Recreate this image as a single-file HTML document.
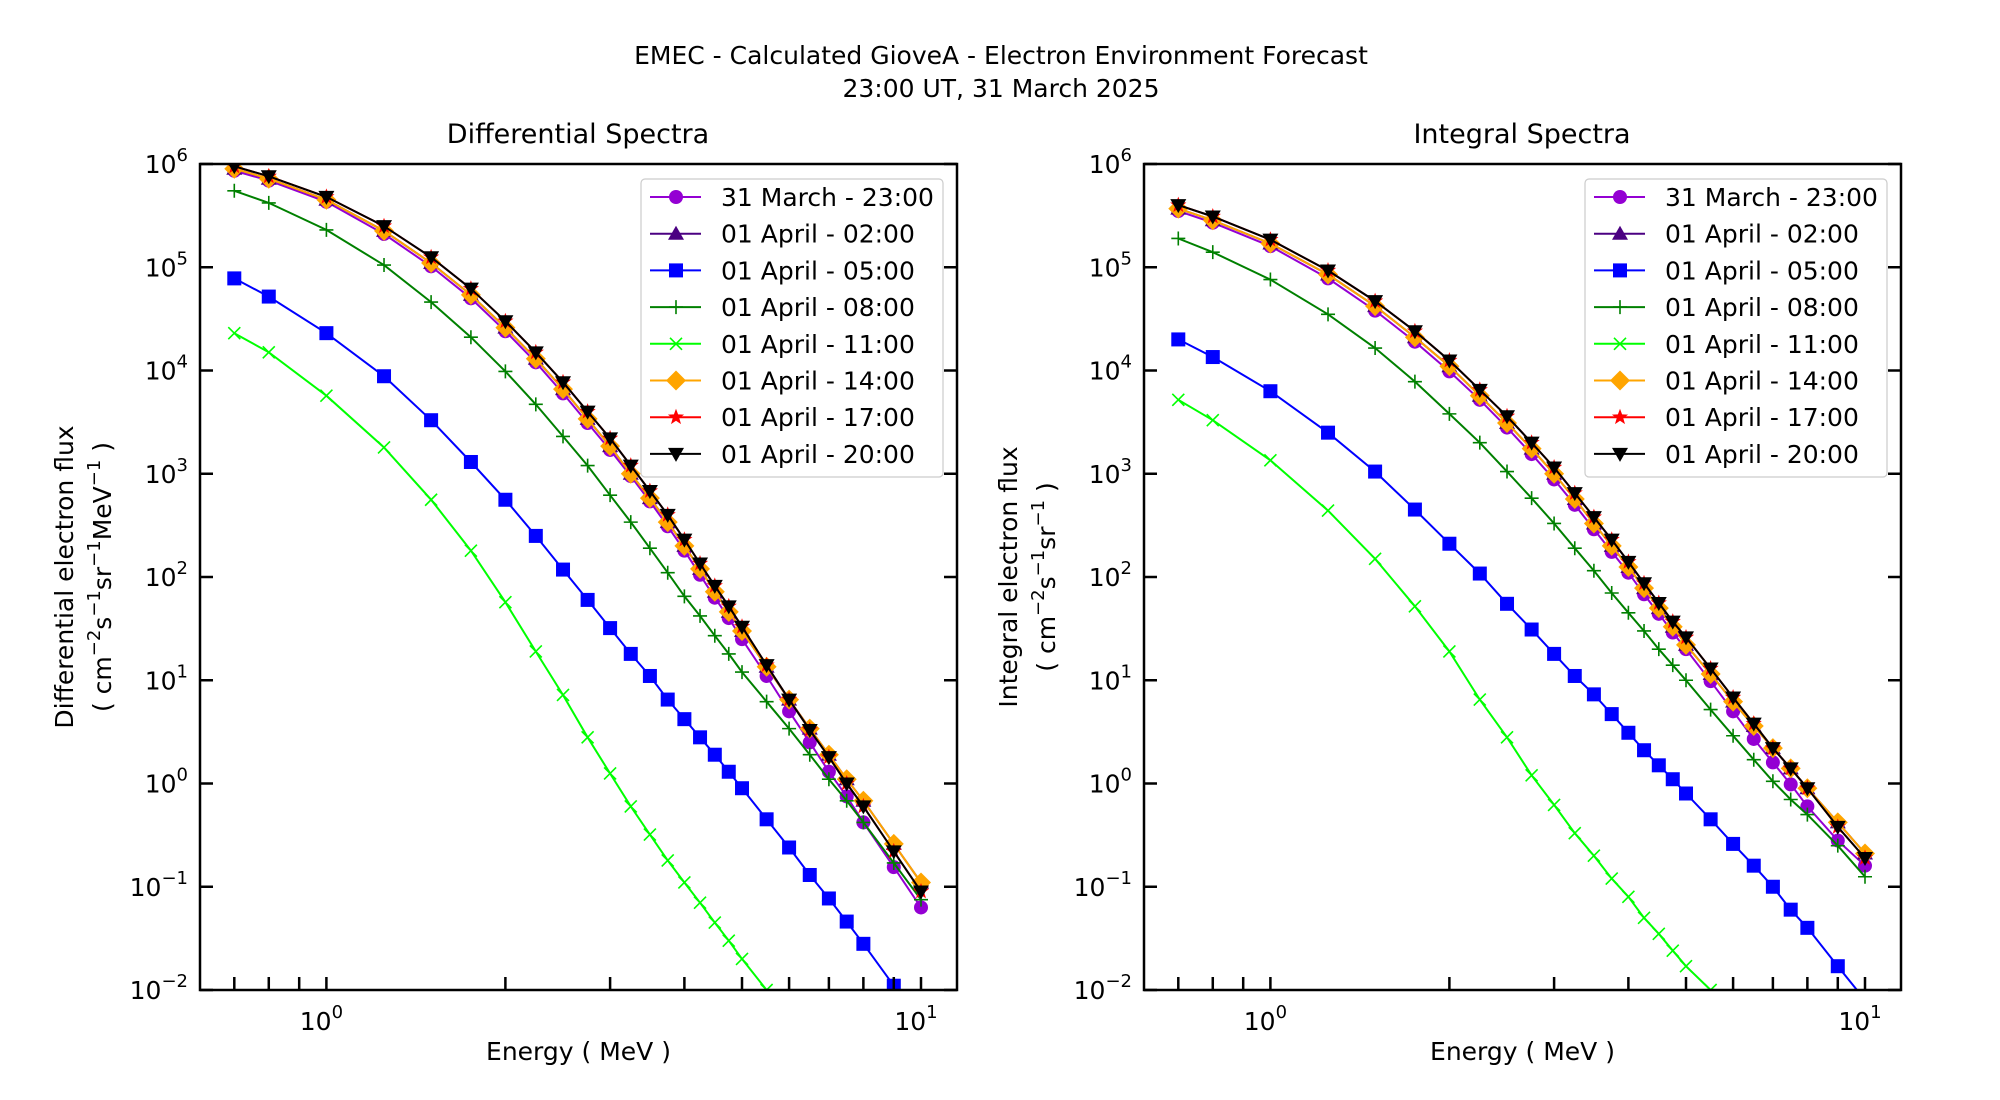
<!DOCTYPE html>
<html><head><meta charset="utf-8">
<style>
html,body{margin:0;padding:0;background:#fff;width:2000px;height:1100px;overflow:hidden;}
svg{display:block;font-family:"DejaVu Sans","Liberation Sans",sans-serif;}
</style></head>
<body>
<svg id="s" width="2000" height="1100" viewBox="0 0 2000 1100" xmlns="http://www.w3.org/2000/svg">
<rect width="2000" height="1100" fill="#fff"/>
<text x="1001" y="64" font-size="25" text-anchor="middle">EMEC - Calculated GioveA - Electron Environment Forecast</text>
<text x="1001" y="97" font-size="25" text-anchor="middle">23:00 UT, 31 March 2025</text>
<text x="578" y="143" font-size="27" text-anchor="middle">Differential Spectra</text>
<text x="1522" y="143" font-size="27" text-anchor="middle">Integral Spectra</text>
<defs>
<clipPath id="c0"><rect x="200" y="164" width="757" height="826"/></clipPath>
<clipPath id="c1"><rect x="1144" y="164" width="757" height="826"/></clipPath>
</defs>
</svg>
<script>
const S=document.getElementById('s');const NS='http://www.w3.org/2000/svg';
function el(t,a,p){const e=document.createElementNS(NS,t);for(const k in a)e.setAttribute(k,a[k]);(p||S).appendChild(e);return e;}
const E=[0.7,0.8,1,1.25,1.5,1.75,2,2.25,2.5,2.75,3,3.25,3.5,3.75,4,4.25,4.5,4.75,5,5.5,6,6.5,7,7.5,8,9,10];
const D={
blk:[9.5e5,7.6e5,4.8e5,2.5e5,1.25e5,6.2e4,3.0e4,1.5e4,7.7e3,4.0e3,2.2e3,1.2e3,680,400,230,135,82,52,33,14,6.5,3.3,1.8,1.0,0.6,0.22,0.09],
org:[9.0e5,7.2e5,4.5e5,2.25e5,1.1e5,5.4e4,2.6e4,1.3e4,6.6e3,3.4e3,1.85e3,1.0e3,580,340,200,120,72,46,30,13.5,6.5,3.4,1.9,1.1,0.68,0.26,0.11],
pur:[8.6e5,6.9e5,4.3e5,2.1e5,1.02e5,5.0e4,2.4e4,1.2e4,6.0e3,3.1e3,1.7e3,950,540,310,180,105,63,40,25,11,5,2.5,1.3,0.75,0.42,0.155,0.063],
dg:[5.5e5,4.2e5,2.3e5,1.05e5,4.6e4,2.1e4,9.8e3,4.7e3,2.3e3,1.2e3,620,340,190,110,65,42,27,18,12,6.2,3.4,1.9,1.1,0.68,0.42,0.17,0.075],
bl:[7.8e4,5.2e4,2.3e4,8.8e3,3.3e3,1.3e3,560,250,118,60,32,18,11,6.5,4.2,2.8,1.9,1.3,0.9,0.45,0.24,0.13,0.077,0.046,0.028,0.011,0.0045],
lg:[2.3e4,1.5e4,5.7e3,1.8e3,560,180,57,19,7.2,2.8,1.25,0.6,0.32,0.18,0.11,0.07,0.045,0.03,0.02,0.01,0.005,0.0025,0.0013,0.0007,0.0004,0.00013,0.00005]
};
const I={
blk:[4.0e5,3.1e5,1.85e5,9.3e4,4.7e4,2.4e4,1.25e4,6.5e3,3.6e3,2.0e3,1.15e3,650,380,230,140,87,56,37,26,13,6.8,3.8,2.2,1.4,0.9,0.38,0.19],
org:[3.7e5,2.85e5,1.7e5,8.5e4,4.2e4,2.1e4,1.1e4,5.7e3,3.1e3,1.75e3,1.0e3,570,330,200,125,78,50,33,22,11.5,6.2,3.6,2.2,1.4,0.9,0.42,0.21],
pur:[3.5e5,2.7e5,1.6e5,7.8e4,3.8e4,1.9e4,9.8e3,5.2e3,2.8e3,1.55e3,880,500,290,175,110,68,44,29,20,9.8,5.0,2.7,1.6,0.98,0.6,0.28,0.16],
dg:[1.9e5,1.4e5,7.6e4,3.5e4,1.65e4,7.8e3,3.8e3,2.0e3,1.05e3,580,330,190,115,70,45,30,20,14,10,5.2,2.9,1.7,1.05,0.7,0.5,0.25,0.125],
bl:[2.0e4,1.35e4,6.3e3,2.5e3,1.05e3,450,210,108,55,31,18,11,7.3,4.7,3.1,2.1,1.5,1.1,0.8,0.45,0.26,0.16,0.1,0.06,0.04,0.017,0.008],
lg:[5.2e3,3.3e3,1.35e3,440,150,52,19,6.5,2.8,1.2,0.62,0.33,0.2,0.12,0.08,0.05,0.035,0.024,0.017,0.01,0.006,0.0035,0.002,0.0012,0.0008,0.0003,0.00012]
};
const ST=[
 ['31 March - 23:00','#9400d3','o','pur'],
 ['01 April - 02:00','#4b0082','^','org'],
 ['01 April - 05:00','#0000ff','s','bl'],
 ['01 April - 08:00','#008000','+','dg'],
 ['01 April - 11:00','#00ff00','x','lg'],
 ['01 April - 14:00','#ffa500','D','org'],
 ['01 April - 17:00','#ff0000','*','blk'],
 ['01 April - 20:00','#000000','v','blk']];
function mk(g,m,x,y,c){
 if(m=='o')el('circle',{cx:x,cy:y,r:7,fill:c},g);
 else if(m=='s')el('rect',{x:x-7,y:y-7,width:14,height:14,fill:c},g);
 else if(m=='^')el('polygon',{points:`${x},${y-8} ${x+8},${y+6} ${x-8},${y+6}`,fill:c},g);
 else if(m=='v')el('polygon',{points:`${x},${y+8} ${x+8},${y-6} ${x-8},${y-6}`,fill:c},g);
 else if(m=='D')el('polygon',{points:`${x},${y-10} ${x+10},${y} ${x},${y+10} ${x-10},${y}`,fill:c},g);
 else if(m=='+'){el('path',{d:`M${x-7} ${y}H${x+7}M${x} ${y-7}V${y+7}`,stroke:c,'stroke-width':1.6},g);}
 else if(m=='x'){el('path',{d:`M${x-6} ${y-6}L${x+6} ${y+6}M${x-6} ${y+6}L${x+6} ${y-6}`,stroke:c,'stroke-width':1.6},g);}
 else if(m=='*'){let p=[];for(let i=0;i<10;i++){const r=i%2?3.5:8.5,a=-Math.PI/2+i*Math.PI/5;p.push((x+r*Math.cos(a)).toFixed(1)+','+(y+r*Math.sin(a)).toFixed(1));}el('polygon',{points:p.join(' '),fill:c},g);}
}
function panel(ox,data,idx,ylab1,ylab2){
 const X=e=>ox+326.4+Math.log10(e)*594.6, Y=v=>990-(Math.log10(v)+2)*103.25;
 const L=ox+200,R=ox+957,T=164,B=990;
 const g=el('g',{'clip-path':`url(#c${idx})`});
 for(const s of ST){
  const d=data[s[3]];const pts=E.map((e,i)=>X(e).toFixed(1)+','+Y(d[i]).toFixed(1)).join(' ');
  el('polyline',{points:pts,fill:'none',stroke:s[1],'stroke-width':2},g);
  E.forEach((e,i)=>mk(g,s[2],X(e),Y(d[i]),s[1]));
 }
 let t='';
 for(let k=-2;k<=6;k++){const y=Y(Math.pow(10,k));t+=`M${L} ${y}h13M${R} ${y}h-13`;
  const tx=el('text',{x:L-12,y:y+9,'font-size':25,'text-anchor':'end'});
  tx.appendChild(document.createTextNode('10'));
  const sp=el('tspan',{'font-size':18,dy:-12},tx);sp.textContent=(k<0?'\u2212'+(-k):''+k);
 }
 const mins=[0.7,0.8,0.9,2,3,4,5,6,7,8,9];
 for(const m of mins)t+=`M${X(m)} ${B}v-13`;
 for(const m of [1,10])t+=`M${X(m)} ${B}v-13`;
 el('path',{d:t,stroke:'#000','stroke-width':2.5,fill:'none'});
 [[1,'0'],[10,'1']].forEach(([v,ex])=>{const tx=el('text',{x:X(v)-5,y:1030,'font-size':25,'text-anchor':'middle'});tx.appendChild(document.createTextNode('10'));const sp=el('tspan',{'font-size':18,dy:-12},tx);sp.textContent=ex;});
 el('rect',{x:L,y:T,width:R-L,height:B-T,fill:'none',stroke:'#000','stroke-width':2.5});
 el('text',{x:(L+R)/2,y:1060,'font-size':25,'text-anchor':'middle'}).textContent='Energy ( MeV )';
 const cy=577;
 const a=el('text',{x:0,y:0,'font-size':25,'text-anchor':'middle',transform:`translate(${ox+73},${cy}) rotate(-90)`});a.textContent=ylab1;
 const b=el('text',{x:0,y:0,'font-size':25,'text-anchor':'middle',transform:`translate(${ox+111},${cy}) rotate(-90)`});
 ylab2.forEach(p=>{const sp=el('tspan',p[1]?{'font-size':18,dy:-11}:{dy:p[2]||0},b);sp.textContent=p[0];});
 const lx=ox+641,ly=179;
 el('rect',{x:lx,y:ly,width:302,height:298,rx:4,fill:'#fff','fill-opacity':0.8,stroke:'#ccc','stroke-width':1.2});
 ST.forEach((s,i)=>{const y=ly+18+i*36.7;
  el('line',{x1:lx+9,x2:lx+60,y1:y,y2:y,stroke:s[1],'stroke-width':2});
  mk(S,s[2],lx+35,y,s[1]);
  el('text',{x:lx+80,y:y+9,'font-size':25}).textContent=s[0];});
}
panel(0,D,0,'Differential electron flux',[['( cm'],['\u22122',1],['s',0,11],['\u22121',1],['sr',0,11],['\u22121',1],['MeV',0,11],['\u22121',1],[' )',0,11]]);
panel(944,I,1,'Integral electron flux',[['( cm'],['\u22122',1],['s',0,11],['\u22121',1],['sr',0,11],['\u22121',1],[' )',0,11]]);
</script>
</body></html>
